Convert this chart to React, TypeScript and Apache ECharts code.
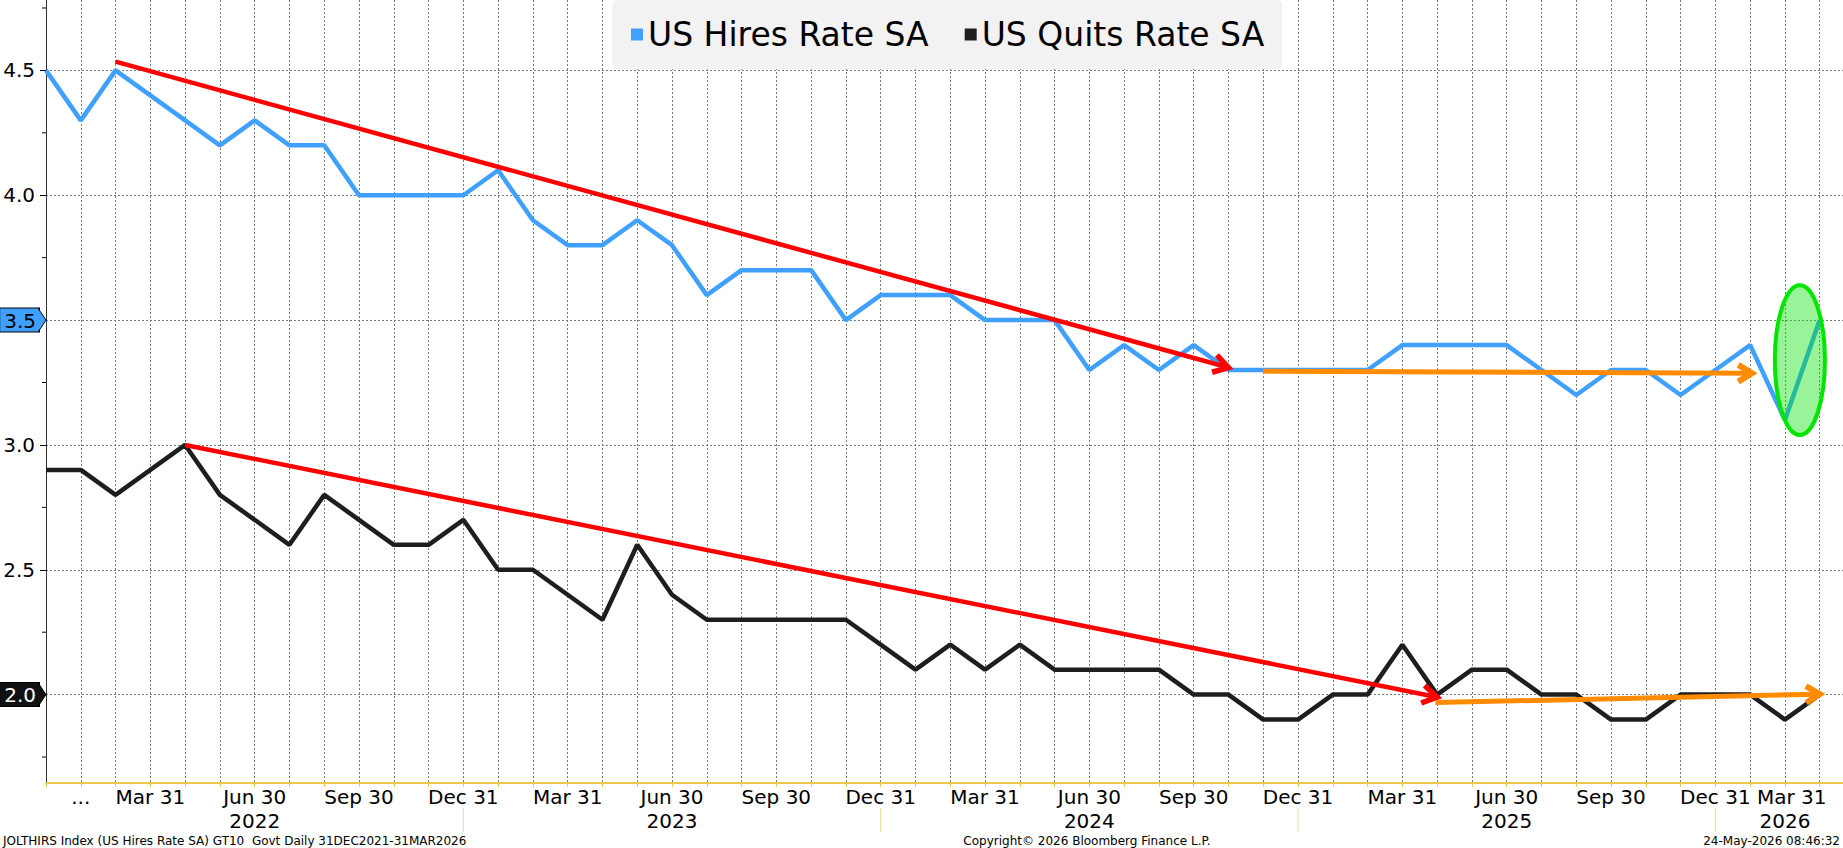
import React, { useEffect, useRef } from "react";
import * as echarts from "echarts";

const FONT = "DejaVu Sans";

// Monthly observations, Dec 2021 .. Mar 2026
const months = [
  "Dec 2021",
  "Jan 2022", "Feb 2022", "Mar 2022", "Apr 2022", "May 2022", "Jun 2022", "Jul 2022", "Aug 2022", "Sep 2022", "Oct 2022", "Nov 2022", "Dec 2022",
  "Jan 2023", "Feb 2023", "Mar 2023", "Apr 2023", "May 2023", "Jun 2023", "Jul 2023", "Aug 2023", "Sep 2023", "Oct 2023", "Nov 2023", "Dec 2023",
  "Jan 2024", "Feb 2024", "Mar 2024", "Apr 2024", "May 2024", "Jun 2024", "Jul 2024", "Aug 2024", "Sep 2024", "Oct 2024", "Nov 2024", "Dec 2024",
  "Jan 2025", "Feb 2025", "Mar 2025", "Apr 2025", "May 2025", "Jun 2025", "Jul 2025", "Aug 2025", "Sep 2025", "Oct 2025", "Nov 2025", "Dec 2025",
  "Jan 2026", "Feb 2026", "Mar 2026",
];

const hiresRate = [
  4.5,
  4.3, 4.5, 4.4, 4.3, 4.2, 4.3, 4.2, 4.2, 4.0, 4.0, 4.0, 4.0,
  4.1, 3.9, 3.8, 3.8, 3.9, 3.8, 3.6, 3.7, 3.7, 3.7, 3.5, 3.6,
  3.6, 3.6, 3.5, 3.5, 3.5, 3.3, 3.4, 3.3, 3.4, 3.3, 3.3, 3.3,
  3.3, 3.3, 3.4, 3.4, 3.4, 3.4, 3.3, 3.2, 3.3, 3.3, 3.2, 3.3,
  3.4, 3.1, 3.5,
];

const quitsRate = [
  2.9,
  2.9, 2.8, 2.9, 3.0, 2.8, 2.7, 2.6, 2.8, 2.7, 2.6, 2.6, 2.7,
  2.5, 2.5, 2.4, 2.3, 2.6, 2.4, 2.3, 2.3, 2.3, 2.3, 2.3, 2.2,
  2.1, 2.2, 2.1, 2.2, 2.1, 2.1, 2.1, 2.1, 2.0, 2.0, 1.9, 1.9,
  2.0, 2.0, 2.2, 2.0, 2.1, 2.1, 2.0, 2.0, 1.9, 1.9, 2.0, 2.0,
  2.0, 1.9, 2.0,
];

// x tick labels: [month index, label]
const monthTickLabels: [number, string][] = [
  [1, "..."], [3, "Mar 31"], [6, "Jun 30"], [9, "Sep 30"], [12, "Dec 31"],
  [15, "Mar 31"], [18, "Jun 30"], [21, "Sep 30"], [24, "Dec 31"],
  [27, "Mar 31"], [30, "Jun 30"], [33, "Sep 30"], [36, "Dec 31"],
  [39, "Mar 31"], [42, "Jun 30"], [45, "Sep 30"], [48, "Dec 31"],
  [51, "Mar 31"],
];
const yearTickLabels: [number, string][] = [
  [6, "2022"], [18, "2023"], [30, "2024"], [42, "2025"], [50, "2026"],
];
const yearBoundaries = [12, 24, 36, 48];

const Y_MIN = 1.646;
const Y_MAX = 4.782;
const X_MAX = 51.67;
const yMinorTicks = [1.75, 2.25, 2.75, 3.25, 3.75, 4.25, 4.75];

// annotations: [x1, y1, x2, y2] in (month index, rate)
const redTrendArrows = [
  [2, 4.535, 34, 3.31],
  [4, 3.0, 40, 1.99],
];
const orangeFlatArrows = [
  [35, 3.295, 49.05, 3.287],
  [39.95, 1.968, 51, 2.002],
];
// [centre x, centre y, half width, half height]
const highlightEllipse = [[50.43, 3.34, 0.72, 0.3]];
// last value tags: [value, fill]
const lastValueTags: [number, string][] = [
  [3.5, "#3fa0ff"],
  [2.0, "#111111"],
];

const HIRES_COLOR = "#3fa0ff";
const QUITS_COLOR = "#1e1e1e";

function arrowRender(color: string, width: number, head: number) {
  return (_params: any, api: any) => {
    const a = api.coord([api.value(0), api.value(1)]);
    const b = api.coord([api.value(2), api.value(3)]);
    const ang = Math.atan2(b[1] - a[1], b[0] - a[0]);
    const spread = 0.55;
    const h1 = [b[0] - head * Math.cos(ang - spread), b[1] - head * Math.sin(ang - spread)];
    const h2 = [b[0] - head * Math.cos(ang + spread), b[1] - head * Math.sin(ang + spread)];
    return {
      type: "group",
      children: [
        {
          type: "line",
          shape: { x1: a[0], y1: a[1], x2: b[0] - 2 * Math.cos(ang), y2: b[1] - 2 * Math.sin(ang) },
          style: { stroke: color, lineWidth: width, fill: "none" },
        },
        {
          type: "polyline",
          shape: { points: [h1, b, h2] },
          style: { stroke: color, lineWidth: width + 1, fill: "none", lineJoin: "miter" },
        },
      ],
    };
  };
}

export default function App() {
  const ref = useRef<HTMLDivElement>(null);

  useEffect(() => {
    if (!ref.current) return;
    const chart = echarts.init(ref.current, null, { renderer: "svg" });

    const monthMap = new Map(monthTickLabels);
    const yearMap = new Map(yearTickLabels);

    const option: any = {
      animation: false,
      backgroundColor: "#ffffff",
      textStyle: { fontFamily: FONT },
      grid: { left: 46, right: 0, top: 0, bottom: 65, containLabel: false, outerBoundsMode: "none" },
      legend: {
        data: ["US Hires Rate SA", "US Quits Rate SA"],
        left: 612,
        top: 0,
        icon: "rect",
        itemWidth: 12,
        itemHeight: 12,
        itemGap: 36,
        padding: [18, 18, 18, 19],
        backgroundColor: "#f2f2f2",
        borderRadius: 5,
        textStyle: { fontSize: 33, fontFamily: FONT, color: "#000" },
      },
      xAxis: {
        type: "value",
        min: 0,
        max: X_MAX,
        interval: 1,
        axisLine: { show: true, lineStyle: { color: "#ecc94b", width: 2 } },
        axisTick: { show: true, length: 4, lineStyle: { color: "#ecc94b", width: 1 } },
        splitLine: {
          show: true,
          showMinLine: false,
          showMaxLine: false,
          lineStyle: { color: "#7a7a7a", type: [2, 2], width: 1 },
        },
        axisLabel: {
          show: true,
          margin: 2,
          fontSize: 20,
          fontFamily: FONT,
          color: "#000",
          lineHeight: 24,
          showMaxLabel: false,
          showMinLabel: true,
          formatter: (v: number) => {
            const i = Math.round(v);
            const m = monthMap.get(i);
            const y = yearMap.get(i);
            if (i === months.length - 1 && m) {
              return "{last|" + m + "}";
            }
            if (m && y) return m + "\n" + y;
            if (y) return " \n" + y;
            return m || "";
          },
          rich: {
            last: {
              fontSize: 20,
              fontFamily: FONT,
              color: "#000",
              lineHeight: 24,
              padding: [0, 56, 0, 0],
            },
          },
        },
      },
      yAxis: {
        type: "value",
        min: Y_MIN,
        max: Y_MAX,
        axisLine: { show: true, lineStyle: { color: "#333", width: 1 } },
        axisTick: { show: true, length: 6, lineStyle: { color: "#000", width: 1 } },
        splitLine: {
          show: true,
          showMinLine: false,
          showMaxLine: false,
          lineStyle: { color: "#7a7a7a", type: [2, 2], width: 1 },
        },
        axisLabel: {
          margin: 7,
          fontSize: 20,
          fontFamily: FONT,
          color: "#000",
          showMinLabel: false,
          showMaxLabel: false,
          formatter: (v: number) => {
            if (Math.abs(v - 3.5) < 1e-6) return "{tagB|3.5}";
            if (Math.abs(v - 2.0) < 1e-6) return "{tagK|2.0}";
            return "{n|" + v.toFixed(1) + "}";
          },
          rich: {
            n: { fontSize: 20, fontFamily: FONT, color: "#000", padding: [0, 4, 0, 0] },
            tagB: {
              fontSize: 20,
              fontFamily: FONT,
              color: "#000",
              backgroundColor: lastValueTags[0][1],
              borderColor: "#000",
              borderWidth: 1,
              padding: [2, 3, 1, 4],
              lineHeight: 21,
            },
            tagK: {
              fontSize: 20,
              fontFamily: FONT,
              color: "#fff",
              backgroundColor: lastValueTags[1][1],
              borderColor: "#000",
              borderWidth: 1,
              padding: [2, 3, 1, 4],
              lineHeight: 21,
            },
          },
        },
      },
      series: [
        {
          name: "US Hires Rate SA",
          type: "line",
          data: hiresRate.map((v, i) => [i, v]),
          showSymbol: false,
          color: HIRES_COLOR,
          lineStyle: { color: HIRES_COLOR, width: 4.5 },
          z: 3,
        },
        {
          name: "US Quits Rate SA",
          type: "line",
          data: quitsRate.map((v, i) => [i, v]),
          showSymbol: false,
          color: QUITS_COLOR,
          lineStyle: { color: QUITS_COLOR, width: 4.5 },
          z: 3,
        },
        {
          name: "redTrends",
          type: "custom",
          data: redTrendArrows,
          encode: { x: [0, 2], y: [1, 3] },
          renderItem: arrowRender("#ff0000", 4.5, 17),
          z: 5,
          silent: true,
        },
        {
          name: "orangeTrends",
          type: "custom",
          data: orangeFlatArrows,
          encode: { x: [0, 2], y: [1, 3] },
          renderItem: arrowRender("#ff8c00", 5, 16),
          z: 5,
          silent: true,
        },
        {
          name: "highlight",
          type: "custom",
          data: highlightEllipse,
          encode: { x: 0, y: 1 },
          renderItem: (_p: any, api: any) => {
            const c = api.coord([api.value(0), api.value(1)]);
            const s = api.size([api.value(2), api.value(3)]);
            return {
              type: "ellipse",
              shape: { cx: c[0], cy: c[1], rx: s[0], ry: s[1] },
              style: { fill: "rgba(0,225,0,0.4)", stroke: "#00e600", lineWidth: 4 },
            };
          },
          z: 6,
          silent: true,
        },
        {
          name: "yearSeparators",
          type: "custom",
          data: yearBoundaries.map((v) => [v, Y_MIN]),
          encode: { x: 0, y: 1 },
          clip: false,
          renderItem: (_p: any, api: any) => {
            const p = api.coord([api.value(0), Y_MIN]);
            return {
              type: "line",
              shape: { x1: p[0], y1: p[1] + 25, x2: p[0], y2: p[1] + 49 },
              style: { stroke: "#efd98a", lineWidth: 1, fill: "none" },
            };
          },
          z: 1,
          silent: true,
        },
        {
          name: "yMinorTicks",
          type: "custom",
          data: yMinorTicks.map((v) => [0, v]),
          encode: { x: 0, y: 1 },
          clip: false,
          renderItem: (_p: any, api: any) => {
            const p = api.coord([0, api.value(1)]);
            return {
              type: "line",
              shape: { x1: p[0] - 4, y1: p[1], x2: p[0], y2: p[1] },
              style: { stroke: "#000", lineWidth: 1, fill: "none" },
            };
          },
          z: 1,
          silent: true,
        },
        {
          name: "tagPointers",
          type: "custom",
          data: lastValueTags.map((t) => [0, t[0]]),
          encode: { x: 0, y: 1 },
          clip: false,
          renderItem: (p: any, api: any) => {
            const c = api.coord([0, api.value(1)]);
            const fill = lastValueTags[p.dataIndex][1];
            const x0 = c[0] - 8;
            return {
              type: "group",
              children: [
                {
                  type: "polygon",
                  shape: { points: [[x0 - 1, c[1] - 11.5], [x0, c[1] - 11.5], [c[0], c[1]], [x0, c[1] + 11.5], [x0 - 1, c[1] + 11.5]] },
                  style: { fill, stroke: "none" },
                },
                {
                  type: "polyline",
                  shape: { points: [[x0, c[1] - 12], [c[0], c[1]], [x0, c[1] + 12]] },
                  style: { stroke: "#000", lineWidth: 1, fill: "none" },
                },
              ],
            };
          },
          z: 7,
          silent: true,
        },
      ],
      graphic: [
        {
          type: "text",
          left: 3,
          top: 835,
          style: {
            text: "JOLTHIRS Index (US Hires Rate SA) GT10  Govt Daily 31DEC2021-31MAR2026",
            font: "12px " + FONT,
            fill: "#000",
          },
        },
        {
          type: "text",
          x: 1087,
          y: 841,
          style: {
            text: "Copyright© 2026 Bloomberg Finance L.P.",
            font: "12px " + FONT,
            fill: "#000",
            textAlign: "center",
            textVerticalAlign: "middle",
          },
        },
        {
          type: "text",
          x: 1840,
          y: 841,
          style: {
            text: "24-May-2026 08:46:32",
            font: "12px " + FONT,
            fill: "#000",
            textAlign: "right",
            textVerticalAlign: "middle",
          },
        },
      ],
    };

    chart.setOption(option);
    return () => {
      chart.dispose();
    };
  }, []);

  return (
    <div
      ref={ref}
      style={{ position: "absolute", left: 0, top: 0, width: "1843px", height: "848px", background: "#fff" }}
    />
  );
}
